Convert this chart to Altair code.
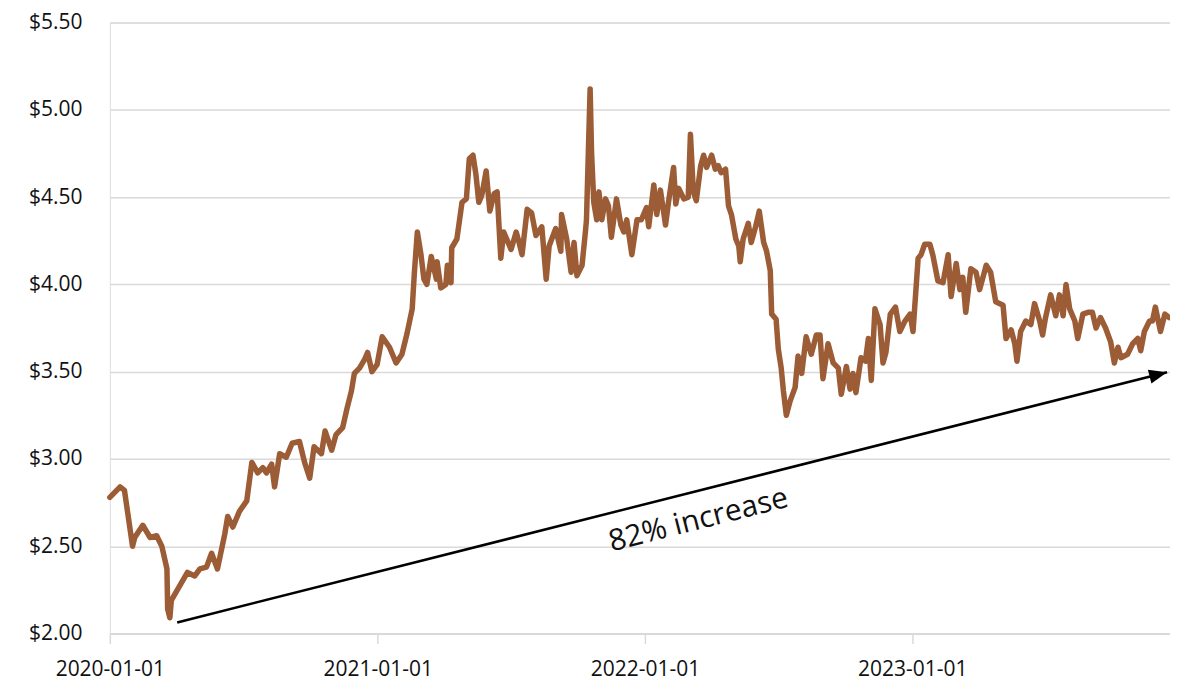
import altair as alt
import pandas as pd

# (days since 2020-01-01, price in $)
price_points = [
    (0, 2.78), (14, 2.84), (20, 2.82), (31, 2.50), (34, 2.55), (45, 2.62), (55, 2.55),
    (64, 2.56), (71, 2.50), (78, 2.37), (79, 2.14), (82, 2.09), (84, 2.19), (95, 2.27),
    (106, 2.35), (116, 2.33), (123, 2.37), (132, 2.38), (139, 2.46), (147, 2.37),
    (157, 2.57), (161, 2.67), (168, 2.61), (177, 2.70), (187, 2.76), (194, 2.98),
    (202, 2.92), (209, 2.95), (214, 2.92), (221, 2.97), (225, 2.84), (232, 3.03),
    (241, 3.01), (249, 3.09), (259, 3.10), (266, 2.98), (273, 2.89), (279, 3.07),
    (289, 3.03), (294, 3.16), (303, 3.05), (309, 3.14), (318, 3.18), (324, 3.29),
    (330, 3.39), (334, 3.49), (341, 3.52), (348, 3.57), (352, 3.61), (358, 3.50),
    (365, 3.54), (372, 3.70), (382, 3.64), (391, 3.55), (399, 3.60), (406, 3.72),
    (410, 3.80), (413, 3.86), (416, 4.07), (420, 4.30), (425, 4.17), (429, 4.03),
    (433, 4.00), (439, 4.16), (446, 4.03), (447, 4.13), (452, 3.98), (459, 4.00),
    (461, 4.11), (466, 4.01), (467, 4.21), (474, 4.26), (481, 4.47), (487, 4.49),
    (491, 4.72), (496, 4.74), (500, 4.63), (504, 4.47), (508, 4.51), (514, 4.65),
    (519, 4.42), (525, 4.52), (529, 4.53), (534, 4.15), (538, 4.30), (548, 4.20),
    (555, 4.30), (559, 4.24), (563, 4.17), (570, 4.43), (576, 4.41), (582, 4.28),
    (590, 4.33), (596, 4.03), (600, 4.22), (609, 4.32), (616, 4.19), (617, 4.40),
    (624, 4.26), (630, 4.07), (634, 4.24), (638, 4.05), (645, 4.11), (650, 4.32),
    (651, 4.37), (656, 5.12), (658, 4.75), (661, 4.47), (665, 4.37), (668, 4.53),
    (672, 4.37), (677, 4.49), (681, 4.45), (685, 4.27), (692, 4.49), (698, 4.34),
    (702, 4.30), (706, 4.37), (713, 4.17), (720, 4.37), (726, 4.37), (733, 4.44),
    (736, 4.33), (743, 4.57), (747, 4.40), (752, 4.54), (759, 4.34), (763, 4.47),
    (770, 4.67), (773, 4.46), (777, 4.55), (784, 4.49), (790, 4.50), (793, 4.86),
    (797, 4.53), (801, 4.48), (807, 4.68), (811, 4.74), (815, 4.67), (822, 4.74),
    (827, 4.66), (831, 4.68), (835, 4.64), (841, 4.66), (845, 4.45), (849, 4.40),
    (855, 4.26), (859, 4.22), (861, 4.13), (865, 4.26), (872, 4.35), (876, 4.24),
    (882, 4.33), (887, 4.42), (893, 4.24), (897, 4.19), (902, 4.08), (904, 3.83),
    (910, 3.80), (913, 3.63), (917, 3.52), (920, 3.39), (924, 3.25), (929, 3.33),
    (936, 3.41), (940, 3.59), (945, 3.49), (951, 3.70), (958, 3.60), (965, 3.71),
    (970, 3.71), (974, 3.46), (981, 3.66), (988, 3.55), (995, 3.52), (999, 3.37),
    (1006, 3.53), (1011, 3.40), (1015, 3.49), (1019, 3.38), (1026, 3.58), (1032, 3.56),
    (1036, 3.69), (1040, 3.45), (1045, 3.86), (1052, 3.77), (1056, 3.55), (1060, 3.61),
    (1066, 3.83), (1073, 3.87), (1079, 3.73), (1086, 3.79), (1093, 3.83), (1097, 3.73),
    (1104, 4.15), (1108, 4.17), (1113, 4.23), (1120, 4.23), (1124, 4.17), (1131, 4.02),
    (1138, 4.01), (1145, 4.17), (1149, 3.93), (1156, 4.12), (1161, 3.97), (1165, 4.04),
    (1169, 3.84), (1176, 4.09), (1183, 4.07), (1188, 3.97), (1197, 4.11), (1203, 4.07),
    (1210, 3.90), (1220, 3.88), (1224, 3.69), (1231, 3.74), (1236, 3.66), (1239, 3.56),
    (1244, 3.73), (1251, 3.79), (1258, 3.77), (1263, 3.89), (1270, 3.79), (1274, 3.71),
    (1278, 3.81), (1285, 3.94), (1292, 3.82), (1297, 3.94), (1302, 3.82), (1306, 4.00),
    (1311, 3.86), (1318, 3.79), (1322, 3.69), (1329, 3.83), (1336, 3.84), (1342, 3.84),
    (1347, 3.75), (1353, 3.81), (1360, 3.75), (1367, 3.67), (1372, 3.55), (1377, 3.64),
    (1381, 3.58), (1390, 3.60), (1397, 3.66), (1404, 3.69), (1408, 3.62), (1413, 3.73),
    (1420, 3.79), (1424, 3.79), (1428, 3.87), (1435, 3.73), (1441, 3.83), (1447, 3.81),
]

y_ticks = [2.0, 2.5, 3.0, 3.5, 4.0, 4.5, 5.0, 5.5]
x_tick_years = [2020, 2021, 2022, 2023]

arrow_start = ("2020-04-02", 2.063)
arrow_end = ("2023-12-15", 3.497)
label_text = "82% increase"
label_pos = ("2022-03-15", 2.649)

start = pd.Timestamp("2020-01-01")
df = pd.DataFrame({
    "date": [(start + pd.Timedelta(days=d)).strftime("%Y-%m-%d") for d, _ in price_points],
    "price": [p for _, p in price_points],
})

BROWN = "#9B5C36"
GRID = "#d9d9d9"
FONT = "Open Sans"

x_scale = alt.Scale(
    type="utc",
    domain=[alt.DateTime(year=2020, month=1, date=1, utc=True),
            alt.DateTime(year=2023, month=12, date=19, utc=True)],
    nice=False,
)
y_scale = alt.Scale(domain=[2.0, 5.5], nice=False, zero=False)

line = alt.Chart(df).mark_line(
    color=BROWN, strokeWidth=5.5, strokeCap="round", strokeJoin="round"
).encode(
    x=alt.X("date:T", scale=x_scale, title=None,
            axis=alt.Axis(
                values=[alt.DateTime(year=y, month=1, date=1, utc=True) for y in x_tick_years],
                labelExpr="utcFormat(datum.value, '%Y-%m-%d')", grid=False,
                domainColor=GRID, domainWidth=2, tickColor=GRID, tickWidth=1.5,
                tickSize=10, labelFont=FONT, labelFontSize=21, labelColor="#111111",
                labelPadding=15, labelFlush=False)),
    y=alt.Y("price:Q", scale=y_scale, title=None,
            axis=alt.Axis(values=y_ticks, format="$.2f", grid=True, gridColor=GRID,
                          gridWidth=1.5, domain=False, ticks=False, labelFont=FONT,
                          labelFontSize=21, labelColor="#111111", labelPadding=28)),
)

arrow_df = pd.DataFrame({
    "x": [arrow_start[0]], "y": [arrow_start[1]],
    "x2": [arrow_end[0]], "y2": [arrow_end[1]],
})
arrow_line = alt.Chart(arrow_df).mark_rule(color="black", strokeWidth=2.5).encode(
    x=alt.X("x:T", scale=x_scale), y=alt.Y("y:Q", scale=y_scale),
    x2="x2:T", y2="y2:Q",
)

head_df = pd.DataFrame({"x": [arrow_end[0]], "y": [arrow_end[1]]})
arrow_head = alt.Chart(head_df).mark_point(
    shape="M0,0L-2,-0.8L-2,0.8Z", filled=True, fill="black", stroke=None,
    size=324, angle=345.75, opacity=1,
).encode(x=alt.X("x:T", scale=x_scale), y=alt.Y("y:Q", scale=y_scale))

label_df = pd.DataFrame({"x": [label_pos[0]], "y": [label_pos[1]], "t": [label_text]})
label = alt.Chart(label_df).mark_text(
    font=FONT, fontSize=30, color="#111111", angle=345.75,
    align="center", baseline="middle",
).encode(x=alt.X("x:T", scale=x_scale), y=alt.Y("y:Q", scale=y_scale), text="t:N")

chart = alt.layer(line, arrow_line, arrow_head, label).properties(
    width=1062, height=612,
    autosize=alt.AutoSizeParams(type="none"),
    padding={"left": 102, "top": 14, "right": 0, "bottom": 50},
).configure_view(stroke=None).configure(background="white")

chart.save("out.html", embed_options={"renderer": "svg", "actions": False})
